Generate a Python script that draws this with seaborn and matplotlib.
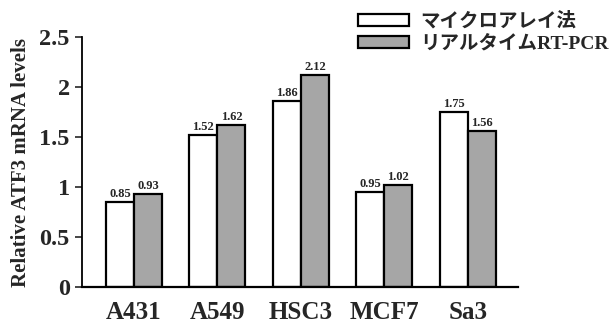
import pandas as pd
import matplotlib
matplotlib.use("Agg")
import matplotlib.pyplot as plt
import seaborn as sns
from matplotlib.patches import Patch

# data
cell_lines = ["A431", "A549", "HSC3", "MCF7", "Sa3"]
methods = ["マイクロアレイ法", "リアルタイムRT-PCR"]
microarray = [0.85, 1.52, 1.86, 0.95, 1.75]
rt_pcr = [0.93, 1.62, 2.12, 1.02, 1.56]
y_ticks = [0, 0.5, 1, 1.5, 2, 2.5]
y_tick_labels = ["0", "0.5", "1", "1.5", "2", "2.5"]

df = pd.DataFrame({
    "cell": cell_lines * 2,
    "method": [methods[0]] * len(cell_lines) + [methods[1]] * len(cell_lines),
    "value": microarray + rt_pcr,
})

sns.set_style("white")
plt.rcParams["font.family"] = ["Liberation Serif", "Noto Sans CJK JP"]
plt.rcParams["font.weight"] = "bold"

fill_colors = ["white", "#a6a6a6"]

fig = plt.figure(figsize=(6.13, 3.31), dpi=100)
ax = fig.add_axes([0.134, 0.133, 0.711, 0.755])

sns.barplot(data=df, x="cell", y="value", hue="method", order=cell_lines,
            hue_order=methods, palette=fill_colors, width=0.67,
            edgecolor="black", linewidth=1.6, saturation=1, errorbar=None,
            legend=False, ax=ax)

for cont in ax.containers:
    ax.bar_label(cont, fmt="%.2f", padding=1.5, fontsize=9, fontweight="bold")

ax.set_xlim(-0.62, 4.6)
ax.set_ylim(0, 2.5)
ax.set_yticks(y_ticks)
ax.set_yticklabels(y_tick_labels)
ax.set_xlabel("")
ax.set_ylabel("Relative ATF3 mRNA levels", fontsize=15, fontweight="bold", labelpad=6)
ax.tick_params(axis="y", direction="out", length=5, width=1.2, labelsize=17.5, pad=4, left=True)
ax.tick_params(axis="x", length=0, labelsize=18, pad=10)
for lab in ax.get_xticklabels() + ax.get_yticklabels():
    lab.set_fontweight("bold")

sns.despine(ax=ax)
ax.spines["left"].set_linewidth(1.3)
ax.spines["bottom"].set_linewidth(1.6)
ax.spines["left"].set_color("black")
ax.spines["bottom"].set_color("black")

handles = [Patch(facecolor=c, edgecolor="black", linewidth=1.6) for c in fill_colors]
fig.legend(handles, methods, loc="upper left", bbox_to_anchor=(0.567, 0.995),
           frameon=False, fontsize=14, handlelength=2.6, handleheight=0.6,
           handletextpad=0.6, labelspacing=0.22, borderaxespad=0.15)

fig.savefig("out.png", dpi=100)
